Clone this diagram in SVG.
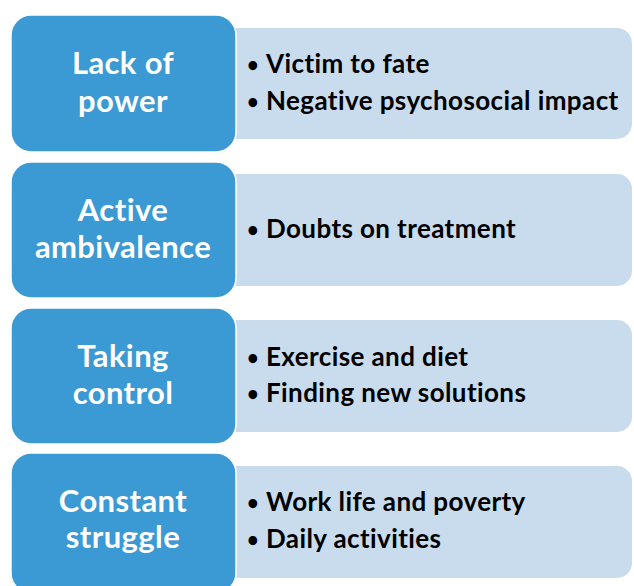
<svg xmlns="http://www.w3.org/2000/svg" width="634" height="586" viewBox="0 0 634 586">
  <style>
    .detail { fill: #C9DCEE; }
    .head { fill: #3B99D3; stroke: #FFFFFF; stroke-width: 1.5; }
    .htxt { font-family: Lato, "Open Sans", "Liberation Sans", sans-serif; font-weight: bold; font-size: 31px; letter-spacing: 0.4px; fill: #FFFFFF; text-anchor: middle; font-variant-ligatures: none; }
    .btxt { font-family: Lato, "Open Sans", "Liberation Sans", sans-serif; font-weight: bold; font-size: 26px; letter-spacing: 0.4px; fill: #000000; font-variant-ligatures: none; }
    .dot { font-size: 20px; }
  </style>
  <rect width="634" height="586" fill="#FFFFFF"/>

  <g id="row-lack-of-power">
    <rect class="detail" x="220" y="28" width="412" height="111" rx="15"/>
    <rect class="head" x="11" y="15" width="225" height="137" rx="20"/>
    <text class="htxt" x="123" y="74">Lack of</text>
    <text class="htxt" x="123" y="112">power</text>
    <text class="btxt" y="73"><tspan class="dot" x="247" dy="-1">•</tspan><tspan x="266" dy="1">Victim to fate</tspan></text>
    <text class="btxt" y="110"><tspan class="dot" x="247" dy="-1">•</tspan><tspan x="266" dy="1">Negative psychosocial impact</tspan></text>
  </g>

  <g id="row-active-ambivalence">
    <rect class="detail" x="220" y="174" width="412" height="112" rx="15"/>
    <rect class="head" x="11" y="162" width="225" height="136" rx="20"/>
    <text class="htxt" x="123" y="221">Active</text>
    <text class="htxt" x="123" y="258">ambivalence</text>
    <text class="btxt" y="238"><tspan class="dot" x="247" dy="-1">•</tspan><tspan x="266" dy="1">Doubts on treatment</tspan></text>
  </g>

  <g id="row-taking-control">
    <rect class="detail" x="220" y="320" width="412" height="112" rx="15"/>
    <rect class="head" x="11" y="308" width="225" height="136" rx="20"/>
    <text class="htxt" x="123" y="367">Taking</text>
    <text class="htxt" x="123" y="404">control</text>
    <text class="btxt" y="366"><tspan class="dot" x="247" dy="-1">•</tspan><tspan x="266" dy="1">Exercise and diet</tspan></text>
    <text class="btxt" y="402"><tspan class="dot" x="247" dy="-1">•</tspan><tspan x="266" dy="1">Finding new solutions</tspan></text>
  </g>

  <g id="row-constant-struggle">
    <rect class="detail" x="220" y="466" width="412" height="112" rx="15"/>
    <rect class="head" x="11" y="453" width="225" height="140" rx="20"/>
    <text class="htxt" x="123" y="512">Constant</text>
    <text class="htxt" x="123" y="548">struggle</text>
    <text class="btxt" y="511"><tspan class="dot" x="247" dy="-1">•</tspan><tspan x="266" dy="1">Work life and poverty</tspan></text>
    <text class="btxt" y="548"><tspan class="dot" x="247" dy="-1">•</tspan><tspan x="266" dy="1">Daily activities</tspan></text>
  </g>

  <g id="connectors"/>
</svg>
